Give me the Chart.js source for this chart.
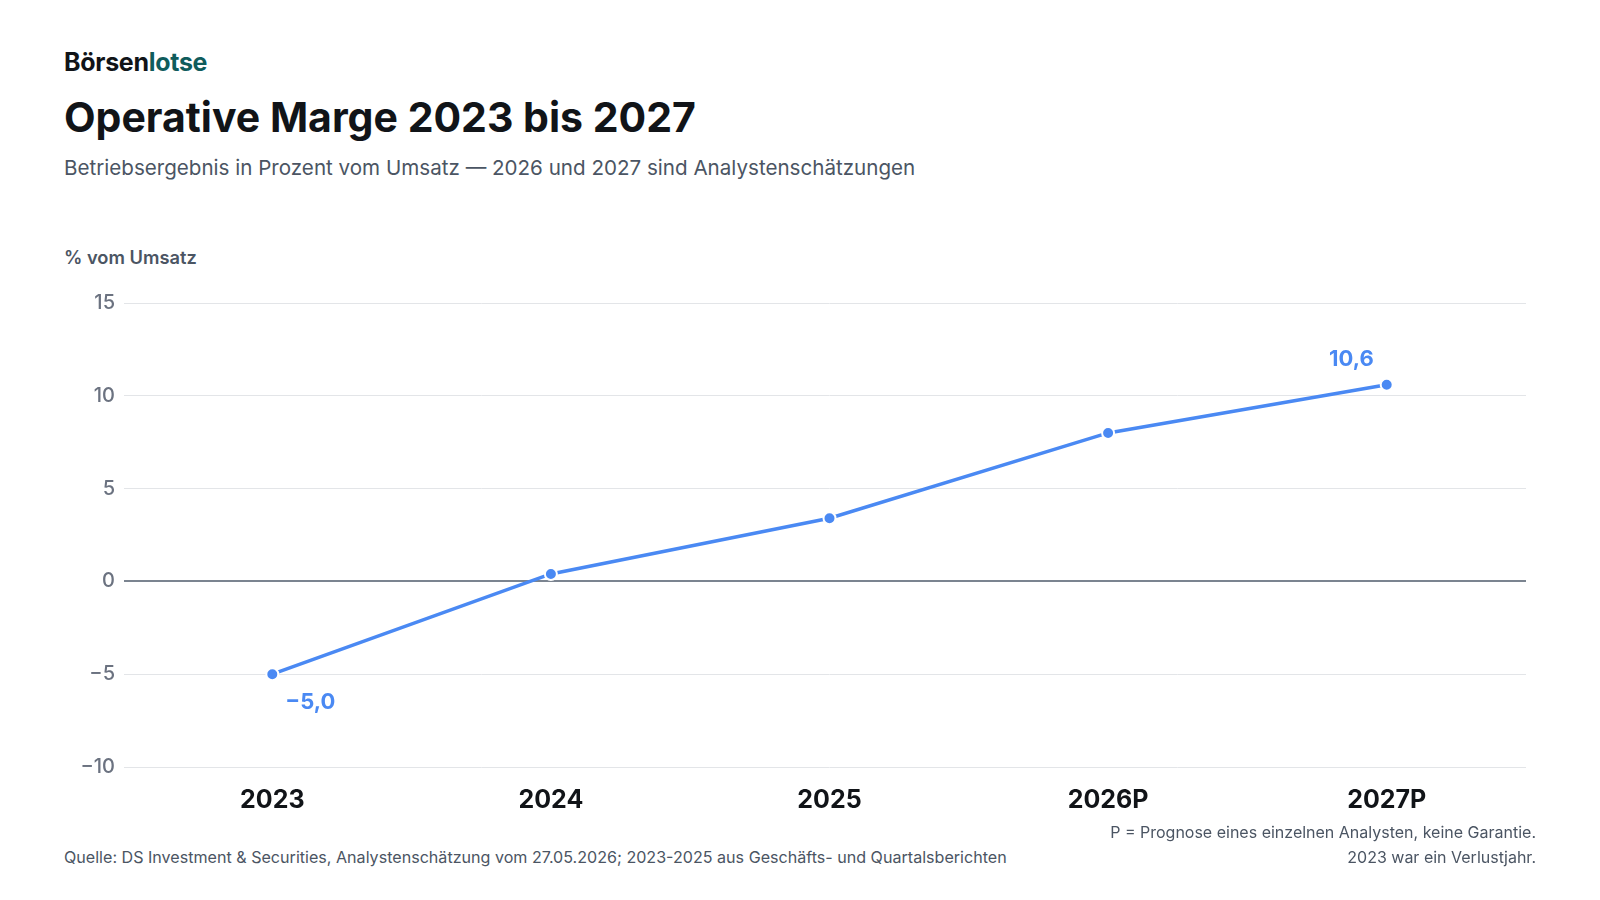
<!DOCTYPE html>
<html lang="de">
<head>
<meta charset="utf-8">
<script src="https://cdn.jsdelivr.net/npm/chart.js@4.4.1/dist/chart.umd.min.js"></script>
<style>
  html, body { margin: 0; padding: 0; background: #ffffff; }
  body { width: 1600px; height: 900px; position: relative; font-family: Inter, "Noto Sans", sans-serif; overflow: hidden; }
  .brand { position: absolute; left: 64px; top: 47px; font-size: 25px; font-weight: 700; color: #111418; letter-spacing: -0.3px; line-height: 30px; }
  .brand span { color: #0f5c5c; }
  .title { position: absolute; left: 64px; top: 92px; font-size: 41px; font-weight: 700; color: #111418; letter-spacing: 0; line-height: 50px; }
  .subtitle { position: absolute; left: 64px; top: 155px; font-size: 20.6px; font-weight: 400; color: #4b5563; line-height: 26px; }
  .ylabel { position: absolute; left: 64px; top: 246px; font-size: 18.3px; font-weight: 600; color: #4b5563; line-height: 22px; }
  .source { position: absolute; left: 64px; top: 845px; font-size: 16.1px; color: #4b5563; line-height: 24px; }
  .note { position: absolute; right: 64px; top: 820px; font-size: 16px; color: #4b5563; text-align: right; line-height: 24.5px; }
  #wrap { position: absolute; left: 0; top: 280px; width: 1600px; height: 550px; }
</style>
</head>
<body>
<div class="brand">Börsen<span>lotse</span></div>
<div class="title">Operative Marge 2023 bis 2027</div>
<div class="subtitle">Betriebsergebnis in Prozent vom Umsatz — 2026 und 2027 sind Analystenschätzungen</div>
<div class="ylabel">% vom Umsatz</div>
<div id="wrap"><canvas id="c"></canvas></div>
<div class="note">P = Prognose eines einzelnen Analysten, keine Garantie.<br>2023 war ein Verlustjahr.</div>
<div class="source">Quelle: DS Investment &amp; Securities, Analystenschätzung vom 27.05.2026; 2023-2025 aus Geschäfts- und Quartalsberichten</div>
<script>
const categories = ['2023', '2024', '2025', '2026P', '2027P'];
const marginValues = [-5.0, 0.4, 3.4, 8.0, 10.6];
const yTicks = [-10, -5, 0, 5, 10, 15];
const labelledPoints = [0, 4];

const BLUE = '#4a89f3';
const fmt = v => (v < 0 ? '\u2212' : '') + Math.abs(v).toFixed(1).replace('.', ',');
const fmtTick = v => (v < 0 ? '\u2212' : '') + Math.abs(v);

const valueLabels = {
  id: 'valueLabels',
  afterDatasetsDraw(chart) {
    const ctx = chart.ctx;
    const meta = chart.getDatasetMeta(0);
    ctx.save();
    ctx.font = '700 22px Inter, "Noto Sans", sans-serif';
    ctx.fillStyle = BLUE;
    labelledPoints.forEach(i => {
      const p = meta.data[i];
      const v = marginValues[i];
      ctx.textBaseline = 'middle';
      if (v < 0) {
        ctx.textAlign = 'left';
        ctx.fillText(fmt(v), p.x + 13, p.y + 28);
      } else {
        ctx.textAlign = 'right';
        ctx.fillText(fmt(v), p.x - 13, p.y - 25);
      }
    });
    ctx.restore();
  }
};

new Chart(document.getElementById('c'), {
  type: 'line',
  data: {
    labels: categories,
    datasets: [{
      data: marginValues,
      borderColor: BLUE,
      backgroundColor: BLUE,
      borderWidth: 3.5,
      pointRadius: 6,
      pointBorderColor: '#ffffff',
      pointBorderWidth: 2,
      pointBackgroundColor: BLUE,
      tension: 0,
      clip: false
    }]
  },
  options: {
    responsive: true,
    maintainAspectRatio: false,
    animation: false,
    layout: { padding: { left: 0, right: 74, top: 23, bottom: 0 } },
    plugins: { legend: { display: false }, tooltip: { enabled: false } },
    scales: {
      x: {
        offset: true,
        grid: { display: false, drawTicks: false },
        border: { display: false },
        ticks: {
          color: '#111418',
          padding: 18,
          font: { family: 'Inter, "Noto Sans", sans-serif', size: 25, weight: '700' }
        },
        afterFit(scale) { scale.height = 63; }
      },
      y: {
        min: -10,
        max: 15,
        afterBuildTicks(scale) { scale.ticks = yTicks.map(v => ({ value: v })); },
        grid: {
          color: ctx => (ctx.tick && ctx.tick.value === 0) ? '#7b8490' : '#e3e5e8',
          tickColor: ctx => (ctx.tick && ctx.tick.value === 0) ? '#7b8490' : '#e3e5e8',
          lineWidth: ctx => (ctx.tick && ctx.tick.value === 0) ? 2 : 1,
          drawTicks: true,
          tickLength: 9
        },
        border: { display: false },
        ticks: {
          color: '#6b7280',
          padding: 9,
          font: { family: 'Inter, "Noto Sans", sans-serif', size: 20, weight: '500' },
          callback: v => fmtTick(v)
        },
        afterFit(scale) { scale.width = 133; }
      }
    }
  },
  plugins: [valueLabels]
});
</script>
</body>
</html>
